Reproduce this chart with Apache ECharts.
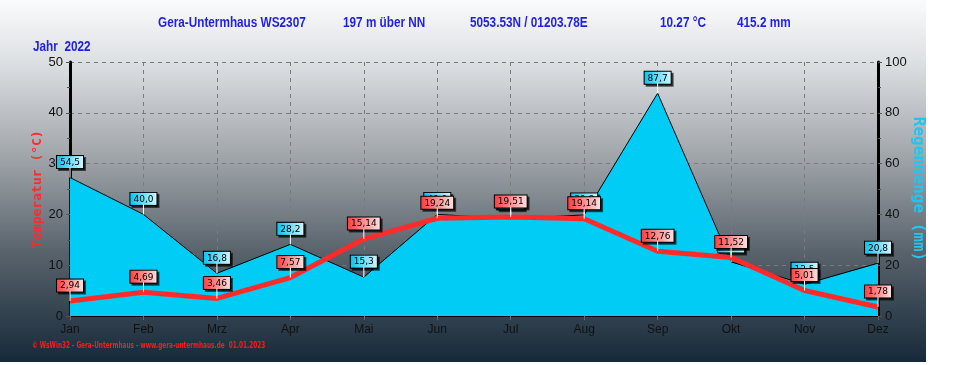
<!DOCTYPE html>
<html><head><meta charset="utf-8">
<script src="https://cdn.jsdelivr.net/npm/echarts@6/dist/echarts.min.js"></script>
<style>html,body{margin:0;padding:0;background:#fff}#c{width:955px;height:365px}</style>
</head><body><div id="c"></div>
<script>
const months = ['Jan','Feb','Mrz','Apr','Mai','Jun','Jul','Aug','Sep','Okt','Nov','Dez'];
const temperature = [2.94, 4.69, 3.46, 7.57, 15.14, 19.24, 19.51, 19.14, 12.76, 11.52, 5.01, 1.78];
const rain = [54.5, 40.0, 16.8, 28.2, 15.3, 40.0, 38.3, 39.8, 87.7, 21.3, 12.5, 20.8];
const tempTicks = [0, 10, 20, 30, 40, 50];
const rainTicks = [0, 20, 40, 60, 80, 100];

const chart = echarts.init(document.getElementById('c'), null, {renderer:'canvas'});
const titleFont = '"Liberation Sans Narrow", "Liberation Sans", Arial, sans-serif';
const boxLabel = (c1, c2, digits) => ({
  show: true, position: 'top', distance: 9,
  formatter: p => p.value.toFixed(digits).replace('.', ','),
  fontFamily: '"DejaVu Sans", sans-serif', fontSize: 9, color: '#000',
  backgroundColor: {type:'linear', x:0, y:0, x2:1, y2:0, colorStops:[{offset:0,color:c1},{offset:1,color:c2}]},
  borderColor: '#000', borderWidth: 1, padding: [2, 3, 1, 3],
  shadowColor: 'rgba(0,0,0,0.6)', shadowOffsetX: 2, shadowOffsetY: 2, shadowBlur: 0
});
const connector = (axisIdx, values, z) => ({
  type:'custom', yAxisIndex:axisIdx, z:z, silent:true,
  data: values.map((v, i) => [i, v]),
  renderItem: (params, api) => {
    const p = api.coord([api.value(0), api.value(1)]);
    return {type:'line', shape:{x1:p[0], y1:p[1], x2:p[0], y2:p[1]-10},
            style:{stroke:'#ffffff', lineWidth:1}};
  }
});
const t = (x, y, s) => ({type:'text', x:x, y:y, scaleX:0.84,
  style:{text:s, fill:'#1f1fe6', font:'bold 14px '+titleFont}});
chart.setOption({
  animation: false,
  backgroundColor: 'transparent',
  graphic: [
    {type:'rect', z:-10, silent:true, shape:{x:0,y:0,width:926,height:362},
     style:{fill:{type:'linear',x:0,y:0,x2:0,y2:1,colorStops:[
       {offset:0,color:'#fafbfc'},{offset:0.17,color:'#dde0e3'},{offset:0.42,color:'#a3a8ad'},
       {offset:0.7,color:'#58626b'},{offset:1,color:'#16293a'}]}}},
    t(158, 16, 'Gera-Untermhaus WS2307'),
    t(343, 16, '197 m über NN'),
    t(470, 16, '5053.53N / 01203.78E'),
    t(660, 16, '10.27 °C'),
    t(737, 16, '415.2 mm'),
    t(33, 40, 'Jahr  2022'),
    {type:'text', x:32, y:342, scaleX:0.72, style:{text:'© WsWin32 - Gera-Untermhaus - www.gera-untermhaus.de  01.01.2023', fill:'#ff1a1a', font:'bold 8px "DejaVu Sans", sans-serif'}}
  ],
  grid: {left:70, right:77, top:62, bottom:49, show:false},
  xAxis: {
    type:'category', data: months, boundaryGap:false,
    axisLine:{show:true, lineStyle:{color:'#000', width:2}},
    axisTick:{show:true, alignWithLabel:true, length:4, lineStyle:{color:'#666'}},
    axisLabel:{color:'#111', fontSize:12, fontFamily:'Arial, "Liberation Sans", sans-serif', margin:8},
    splitLine:{show:true, lineStyle:{color:'#7a7a7a', type:[4,4], width:1}}
  },
  yAxis: [
    {type:'value', min:tempTicks[0], max:tempTicks[tempTicks.length-1], interval:10, position:'left',
     name:'Temperatur (°C)', nameLocation:'middle', nameRotate:90, nameGap:26, nameMoveOverlap:false,
     nameTextStyle:{color:'#ff2a2a', fontSize:13, fontWeight:'bold', fontFamily:'"DejaVu Sans Mono", monospace'},
     axisLine:{show:true, lineStyle:{color:'#000', width:3}},
     axisTick:{show:true, length:4, lineStyle:{color:'#555'}},
     minorTick:{show:true, splitNumber:2, length:3, lineStyle:{color:'#555'}},
     axisLabel:{color:'#111', fontSize:13, fontFamily:'Arial, "Liberation Sans", sans-serif', margin:7},
     splitLine:{show:true, lineStyle:{color:'#7a7a7a', type:[4,4], width:1}}},
    {type:'value', min:rainTicks[0], max:rainTicks[rainTicks.length-1], interval:20, position:'right',
     name:'Regenmenge (mm)', nameLocation:'middle', nameRotate:-90, nameGap:32, nameMoveOverlap:false,
     nameTextStyle:{color:'#22c4f0', fontSize:16, fontWeight:'bold', fontFamily:'"DejaVu Sans Mono", monospace'},
     axisLine:{show:true, lineStyle:{color:'#000', width:3}},
     axisTick:{show:true, length:4, lineStyle:{color:'#555'}},
     minorTick:{show:true, splitNumber:2, length:3, lineStyle:{color:'#555'}},
     axisLabel:{color:'#111', fontSize:13, fontFamily:'Arial, "Liberation Sans", sans-serif', margin:7},
     splitLine:{show:false}}
  ],
  series: [
    {name:'Regen', type:'line', yAxisIndex:1, data: rain, symbol:'circle', showSymbol:true, symbolSize:1,
     itemStyle:{color:'rgba(0,0,0,0)', borderWidth:0},
     lineStyle:{color:'#000', width:1}, areaStyle:{color:'#00ccf5', opacity:1},
     label: boxLabel('#00c4f0', '#d8f6ff', 1), z:2},
    connector(1, rain, 2.5),
    {name:'Temperatur', type:'line', yAxisIndex:0, data: temperature, symbol:'circle', showSymbol:true, symbolSize:1,
     itemStyle:{color:'rgba(0,0,0,0)', borderWidth:0},
     lineStyle:{color:'#ff2a2a', width:5},
     label: boxLabel('#ff3a3a', '#ffe4e4', 2), z:3},
    connector(0, temperature, 4)
  ]
});
</script></body></html>
